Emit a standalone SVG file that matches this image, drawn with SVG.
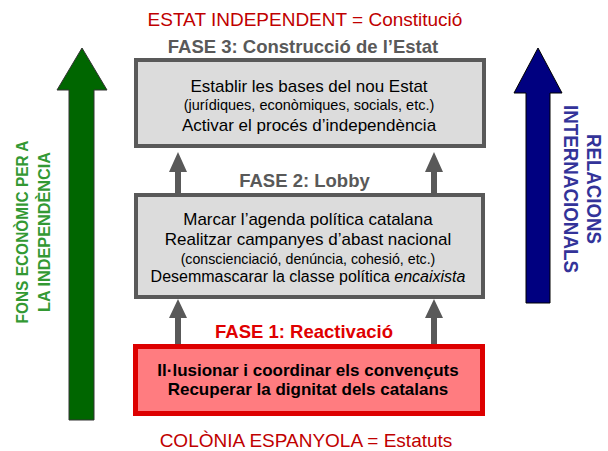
<svg xmlns="http://www.w3.org/2000/svg" width="608" height="451" viewBox="0 0 608 451">
<style>
text{font-family:"Liberation Sans",Arial,sans-serif;text-anchor:middle}
.phase{font-weight:bold;font-size:18.5px;fill:#595959}
.red{font-size:19px;fill:#C00000}
.t{font-size:17px;fill:#000}
.s{font-size:14.5px;fill:#000}
.b{font-size:17px;font-weight:bold;fill:#000}
.gt{font-size:17px;font-weight:bold;fill:#339933}
.bt{font-size:20px;font-weight:bold;fill:#333399}
.gbox{fill:#DCDCDC;stroke:#595959;stroke-width:4}
.garrow{fill:#595959}
</style>
<rect width="608" height="451" fill="#fff"/>
<g id="side-green">
<polygon points="82,48 107,90 94,90 94,420 69,420 69,90 57,90" fill="#006600" stroke="#333" stroke-width="1"/>
<text class="gt" transform="translate(28,232) rotate(-90)" textLength="183" lengthAdjust="spacingAndGlyphs">FONS ECONÒMIC PER A</text>
<text class="gt" transform="translate(50,232) rotate(-90)" textLength="160" lengthAdjust="spacingAndGlyphs">LA INDEPENDÈNCIA</text>
</g>
<g id="side-blue">
<polygon points="538,48 562,93 550,93 550,303 526,303 526,93 514,93" fill="#000080" stroke="#000" stroke-width="1"/>
<text class="bt" transform="translate(587,189) rotate(90)" textLength="110" lengthAdjust="spacingAndGlyphs">RELACIONS</text>
<text class="bt" transform="translate(564,189) rotate(90)" textLength="168" lengthAdjust="spacingAndGlyphs">INTERNACIONALS</text>
</g>
<g id="labels">
<text class="red" x="305" y="26">ESTAT INDEPENDENT = Constitució</text>
<text class="red" x="306" y="447">COLÒNIA ESPANYOLA = Estatuts</text>
</g>
<g id="connectors">
<polygon class="garrow" points="178,152 187,172 181,172 181,193 175,193 175,172 169,172"/>
<polygon class="garrow" points="434,152 443,172 437,172 437,193 431,193 431,172 425,172"/>
<polygon class="garrow" points="178,299 187,318 181,318 181,344 175,344 175,318 169,318"/>
<polygon class="garrow" points="434,299 443,318 437,318 437,344 431,344 431,318 425,318"/>
</g>
<g id="fase3">
<text class="phase" x="303" y="53">FASE 3: Construcció de l’Estat</text>
<rect class="gbox" x="136" y="60" width="348" height="86"/>
<text class="t" x="309" y="92">Establir les bases del nou Estat</text>
<text class="s" x="309" y="110">(jurídiques, econòmiques, socials, etc.)</text>
<text class="t" x="309" y="130.5">Activar el procés d’independència</text>
</g>
<g id="fase2">
<text class="phase" x="304.5" y="187">FASE 2: Lobby</text>
<rect class="gbox" x="136" y="195" width="347" height="102"/>
<text class="t" x="308" y="225">Marcar l’agenda política catalana</text>
<text class="t" x="308" y="245">Realitzar campanyes d’abast nacional</text>
<text x="308" y="263.5" font-size="14.2">(conscienciació, denúncia, cohesió, etc.)</text>
<text x="308" y="281.5" font-size="16">Desemmascarar la classe política <tspan font-style="italic">encaixista</tspan></text>
</g>
<g id="fase1">
<text x="304" y="338" font-size="18.5" font-weight="bold" fill="#E00000">FASE 1: Reactivació</text>
<rect x="135.5" y="346.5" width="347" height="67" fill="#FF7C80" stroke="#DD0000" stroke-width="5"/>
<text class="b" x="308" y="376">Il·lusionar i coordinar els convençuts</text>
<text class="b" x="308" y="394.5">Recuperar la dignitat dels catalans</text>
</g>
</svg>
